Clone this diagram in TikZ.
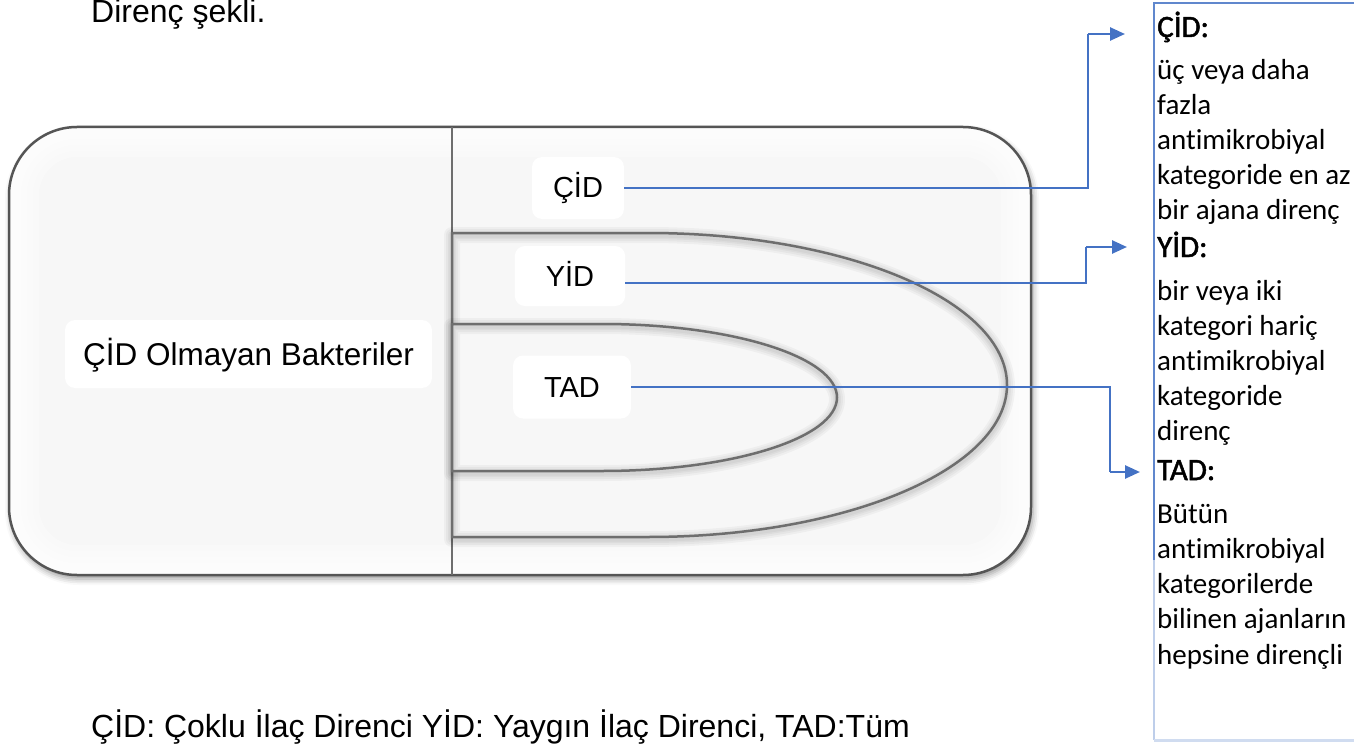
\documentclass[tikz,border=0pt]{standalone}
\usepackage{fontspec}
\setmainfont{Liberation Sans}
\newfontfamily\boxfont[Ligatures={NoCommon,NoContextual}]{Carlito}
\newfontfamily\boxheadfont[FakeBold=1.6,Ligatures={NoCommon,NoContextual}]{Carlito}
\usetikzlibrary{arrows.meta,shadows.blur}

\definecolor{linkblue}{HTML}{4472C4}
\definecolor{edgegray}{HTML}{555555}
\definecolor{shapegray}{HTML}{6E6E6E}
\definecolor{panelfill}{HTML}{F7F7F7}

\tikzset{
  framepath/.style={rounded corners=68pt},
  outerbox/.style={framepath, fill=panelfill,
    blur shadow={shadow xshift=2pt, shadow yshift=-4pt, shadow blur radius=6pt, shadow opacity=40}},
  outerline/.style={framepath, draw=edgegray, line width=2.5pt},
  divider/.style={draw=shapegray, line width=1.6pt},
  dfill/.style={fill=panelfill},
  dglow/.style={draw=black, line join=round, opacity=0.035, yshift=-2pt},
  dline/.style={draw=shapegray, line width=2.5pt},
  tag/.style={fill=white, rounded corners=10pt, inner ysep=0pt,
    font=\fontsize{29}{34}\selectfont, text height=21pt, text depth=1pt},
  link/.style={draw=linkblue, line width=2.6pt, -{Triangle[length=15pt,width=13pt]}},
  plain/.style={draw=linkblue, line width=2.6pt},
  boxline/.style={anchor=base west, inner sep=0pt, font=\boxfont\fontsize{29}{35}\selectfont},
  boxhead/.style={anchor=base west, inner sep=0pt, font=\boxheadfont\fontsize{31}{35}\selectfont},
  caption/.style={anchor=base west, inner sep=0pt, font=\fontsize{32}{38}\selectfont},
}

\begin{document}
\begin{tikzpicture}[x=1pt, y=-1pt]
\useasboundingbox (0,0) rectangle (1354,746);
\clip (0,0) rectangle (1354,746);

% title line and footnote
\node[caption] (title) at (91,23) {Direnç şekli.};
\node[caption] (legend) at (91,737) {ÇİD: Çoklu İlaç Direnci YİD: Yaygın İlaç Direnci, TAD:Tüm};

% bacteria population frame with a soft white rim inside
\path[outerbox] (9,127) rectangle (1031,575);
\begin{scope}
  \clip[framepath] (9,127) rectangle (1031,575);
  \foreach \w in {12,24,36,48,60}
    \draw[framepath, white, line width=\w pt, opacity=0.28] (9,127) rectangle (1031,575);
\end{scope}
\draw[outerline] (9,127) rectangle (1031,575);
\draw[divider] (452,127) -- (452,575);

% nested resistance regions, each with a soft halo under its outline
\path[dfill] (452,233) -- (648,233)
  arc[start angle=90, end angle=-90, x radius=359pt, y radius=152pt]
  -- (452,537) -- cycle;
\foreach \w in {16,12,8,5}
  \path[dglow, line width=\w pt] (452,233) -- (648,233)
    arc[start angle=90, end angle=-90, x radius=359pt, y radius=152pt]
    -- (452,537) -- cycle;
\path[dline] (452,233) -- (648,233)
  arc[start angle=90, end angle=-90, x radius=359pt, y radius=152pt]
  -- (452,537) -- cycle;

\path[dfill] (452,324) -- (602,324)
  arc[start angle=90, end angle=-90, x radius=235pt, y radius=73.5pt]
  -- (452,471) -- cycle;
\foreach \w in {16,12,8,5}
  \path[dglow, line width=\w pt] (452,324) -- (602,324)
    arc[start angle=90, end angle=-90, x radius=235pt, y radius=73.5pt]
    -- (452,471) -- cycle;
\path[dline] (452,324) -- (602,324)
  arc[start angle=90, end angle=-90, x radius=235pt, y radius=73.5pt]
  -- (452,471) -- cycle;

% region labels
\node[tag, inner xsep=18pt, minimum height=68pt, font=\fontsize{31.5}{36}\selectfont,
  text height=23pt, text depth=0pt] (nonmdr) at (248.5,354) {ÇİD Olmayan Bakteriler};
\node[tag, inner xsep=21pt, minimum height=62pt] (cidlbl) at (578,188) {ÇİD};
\node[tag, inner xsep=31pt, minimum height=60pt] (yidlbl) at (570,276) {YİD};
\node[tag, inner xsep=31pt, minimum height=63pt] (tadlbl) at (572,387) {TAD};

% definitions panel
\draw[draw=linkblue!85, line width=1.6pt] (1360,3) -- (1154,3) -- (1154,560);
\draw[draw=linkblue!35, line width=1.6pt] (1154,560) -- (1154,740);
\draw[draw=linkblue!25, line width=3pt] (1154,740) -- (1360,740);

\node[boxhead] (cidhead) at (1157,37) {ÇİD:};
\foreach \t [count=\i from 0] in {üç veya daha, fazla, antimikrobiyal, kategoride en az, bir ajana direnç}
  \node[boxline] (cidtxt\i) at (1157,{80+34.75*\i}) {\t};

\node[boxhead] (yidhead) at (1157,257) {YİD:};
\foreach \t [count=\i from 0] in {bir veya iki, kategori hariç, antimikrobiyal, kategoride, direnç}
  \node[boxline] (yidtxt\i) at (1157,{300+35*\i}) {\t};

\node[boxhead] (tadhead) at (1157,480) {TAD:};
\foreach \t [count=\i from 0] in {Bütün, antimikrobiyal, kategorilerde, bilinen ajanların, hepsine dirençli}
  \node[boxline] (tadtxt\i) at (1157,{523+35.25*\i}) {\t};

% connectors from the labels to their definitions
\coordinate (cidbend) at (1088,34);
\coordinate (cidtip) at (1125,34);
\coordinate (yidbend) at (1086,247);
\coordinate (yidtip) at (1127,247);
\coordinate (tadbend) at (1110,472);
\coordinate (tadtip) at (1140,472);

\draw[plain] (cidlbl.east) -| (cidbend);
\draw[link] (cidbend) -- (cidtip);
\draw[plain] ([yshift=-7pt]yidlbl.east) -| (yidbend);
\draw[link] (yidbend) -- (yidtip);
\draw[plain] (tadlbl.east) -| (tadbend);
\draw[link] (tadbend) -- (tadtip);
\end{tikzpicture}
\end{document}
